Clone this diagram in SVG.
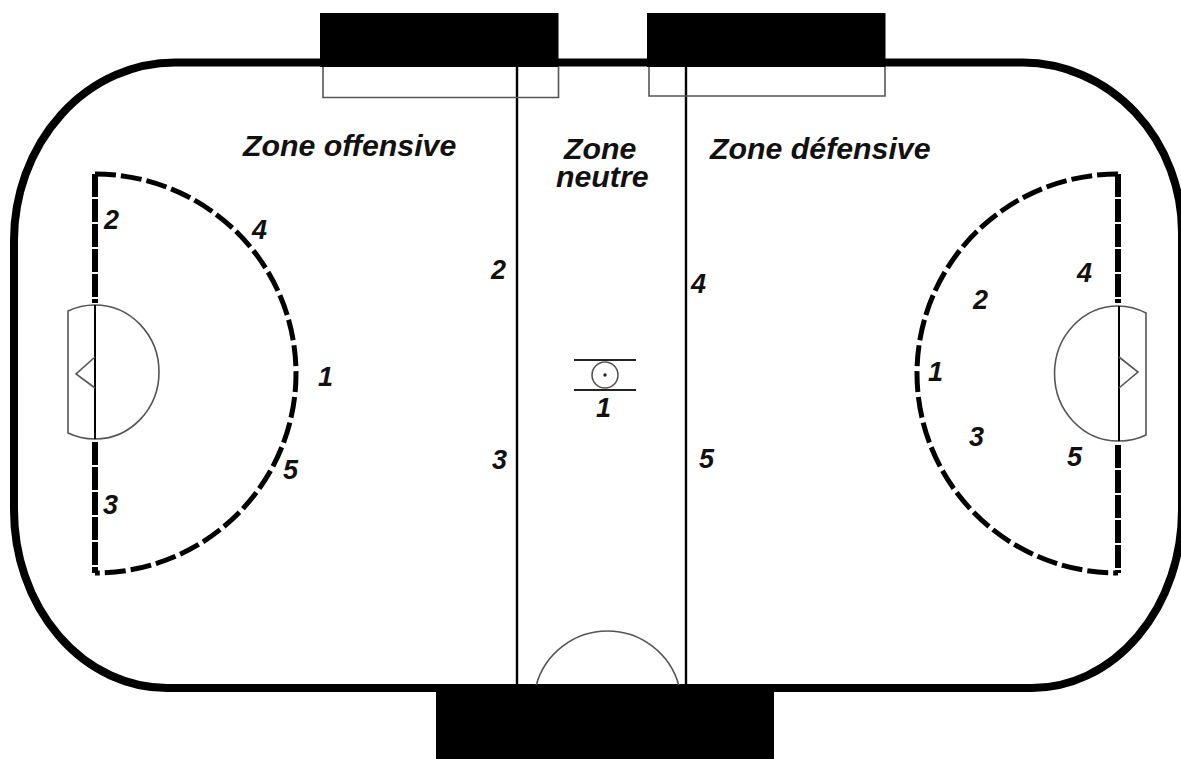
<svg xmlns="http://www.w3.org/2000/svg" width="1181" height="759" viewBox="0 0 1181 759">
<style>
.rink{fill:none;stroke:#000;stroke-width:8}
.thin{fill:none;stroke:#222;stroke-width:2}
.grey{fill:none;stroke:#555;stroke-width:1.6}
.goal{fill:none;stroke:#000;stroke-width:5;stroke-dasharray:21 5}
.goalv{fill:none;stroke:#000;stroke-width:6;stroke-dasharray:23 2}
.box{fill:#000}
text{font-family:"Liberation Sans",Arial,sans-serif;font-weight:bold;font-style:italic;fill:#111}
.z{font-size:30.3px}
.n{font-size:27px}
</style>
<rect width="1181" height="759" fill="#fff"/>
<g id="rink"><path class="rink" d="M175 62.500H1023A160 170 0 0 1 1182 232V510A150 178 0 0 1 1032 688H167A153 178 0 0 1 14 510V240A161 178 0 0 1 175 62.500Z"/></g>
<g id="connectors">
<path class="thin" d="M517 67V686M686 67V686" style="stroke:#000;stroke-width:2.4"/>
</g>
<g id="bench-left"><rect class="box" x="320" y="13" width="238.500" height="54"/><path class="grey" d="M323 67V97.500H558.500V67"/></g>
<g id="bench-right"><rect class="box" x="647" y="13" width="238.500" height="54"/><path class="grey" d="M649 67V96H885V67"/></g>
<g id="bottom-box"><path class="grey" d="M536 686A74 74 0 0 1 679 686"/><rect class="box" x="436" y="685" width="338" height="74"/></g>
<g id="zone-left">
<path class="goal" d="M95 174A201 199.500 0 0 1 95 573"/>
<path class="goalv" d="M95 174V303M95 442V573"/>
<path class="grey" d="M68 311A64 67 0 0 1 95 305A64 67 0 0 1 95 439A64 67 0 0 1 68 433Z"/>
<path class="thin" d="M95 305V439" style="stroke:#000"/>
<path class="grey" d="M95 357L76 374L95 388"/>
</g>
<g id="zone-right">
<path class="goal" d="M1118 174A201 199.500 0 0 0 1118 573"/>
<path class="goalv" d="M1118 174V303M1118 445V573"/>
<path class="grey" d="M1146 313A63 67 0 0 0 1118 306A63 67 0 0 0 1118 441A63 67 0 0 0 1146 435Z"/>
<path class="thin" d="M1119 306V441" style="stroke:#000"/>
<path class="grey" d="M1119 357L1138 372L1119 388"/>
</g>
<g id="center"><path class="thin" d="M574 360H636M574 390H636"/><circle class="grey" cx="605" cy="375" r="13"/><circle cx="605" cy="375" r="1.700" fill="#222"/></g>
<g id="labels">
<text class="z" x="243" y="156">Zone offensive</text>
<text class="z" x="710" y="159">Zone défensive</text>
<text class="z" x="564" y="159">Zone</text>
<text class="z" x="556" y="187">neutre</text>
<text class="n" x="104" y="229">2</text><text class="n" x="252" y="239">4</text><text class="n" x="318" y="386">1</text><text class="n" x="283" y="479">5</text><text class="n" x="103" y="514">3</text>
<text class="n" x="491" y="279">2</text><text class="n" x="492" y="469">3</text><text class="n" x="596" y="417">1</text><text class="n" x="691" y="293">4</text><text class="n" x="699" y="468">5</text>
<text class="n" x="973" y="309">2</text><text class="n" x="1077" y="282">4</text><text class="n" x="928" y="381">1</text><text class="n" x="969" y="446">3</text><text class="n" x="1067" y="466">5</text>
</g>
</svg>
